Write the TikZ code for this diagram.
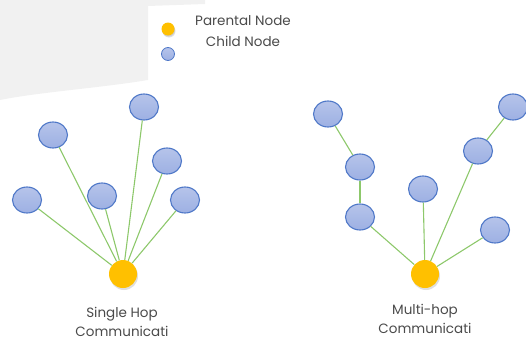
\documentclass[tikz,border=0pt]{standalone}
\usepackage{fontspec}
\setmainfont{Poppins}
\usetikzlibrary{shapes.geometric,shadows}
\definecolor{childblue}{HTML}{9DB0E3}
\definecolor{childedge}{HTML}{4F78C8}
\definecolor{parentgold}{HTML}{FFC000}
\definecolor{linkgreen}{HTML}{8DC86B}
\definecolor{labelgray}{HTML}{4A4A4A}
\definecolor{markgray}{HTML}{F1F1F1}
\begin{document}
\begin{tikzpicture}[x=1pt,y=-1pt,
    child/.style={ellipse,draw=childedge,line width=1.1pt,top color=childblue!75!white,bottom color=childblue,minimum width=29pt,minimum height=26pt,inner sep=0pt},
    parent/.style={circle,fill=parentgold,minimum size=28pt,inner sep=0pt,drop shadow={opacity=0.25,shadow xshift=1pt,shadow yshift=-2pt}},
    link/.style={draw=linkgreen,line width=1.1pt},
    caption/.style={font=\fontsize{13.5}{19}\selectfont,text=labelgray,align=center}]
    \useasboundingbox (0,0) rectangle (526,343);
    % faint watermark corner
    \fill[markgray] (0,0) -- (205,0) -- (205,4) -- (148,6) -- (148,80) .. controls (100,88) and (40,92) .. (0,100) -- cycle;
    % legend
    \node[parent,minimum size=13pt,drop shadow={opacity=0.2,shadow xshift=0.5pt,shadow yshift=-1pt}] (keyparent) at (168,29) {};
    \node[child,minimum width=13pt,minimum height=13pt,line width=0.8pt] (keychild) at (168,54) {};
    \node[caption] (keyparenttext) at (243,21) {Parental Node};
    \node[caption] (keychildtext) at (243,41) {Child Node};
    % single hop
    \node[parent] (sp) at (123,274) {};
    \node[child] (sa) at (27,200) {};
    \node[child] (sb) at (53,135) {};
    \node[child] (sc) at (102,196) {};
    \node[child] (sd) at (144,107) {};
    \node[child] (se) at (167,161) {};
    \node[child] (sf) at (185,200) {};
    \foreach \n in {sa,sb,sc,sd,se,sf}
        \draw[link] (\n) -- (sp);
    \node[caption] (stext) at (122,322) {Single Hop\\Communicati};
    % multi hop
    \node[parent] (mp) at (425,274) {};
    \node[child] (ma) at (328,114) {};
    \node[child] (mb) at (360,167) {};
    \node[child] (mc) at (360,217) {};
    \node[child] (md) at (423,189) {};
    \node[child] (me) at (478,151) {};
    \node[child] (mf) at (513,107) {};
    \node[child] (mg) at (495,230) {};
    \draw[link] (ma) -- (mb);
    \draw[link] (mb) -- (mc);
    \draw[link] (mc) -- (mp);
    \draw[link] (md) -- (mp);
    \draw[link] (mf) -- (me);
    \draw[link] (me) -- (mp);
    \draw[link] (mg) -- (mp);
    \node[caption] (mtext) at (425,319) {Multi-hop\\Communicati};
\end{tikzpicture}
\end{document}
